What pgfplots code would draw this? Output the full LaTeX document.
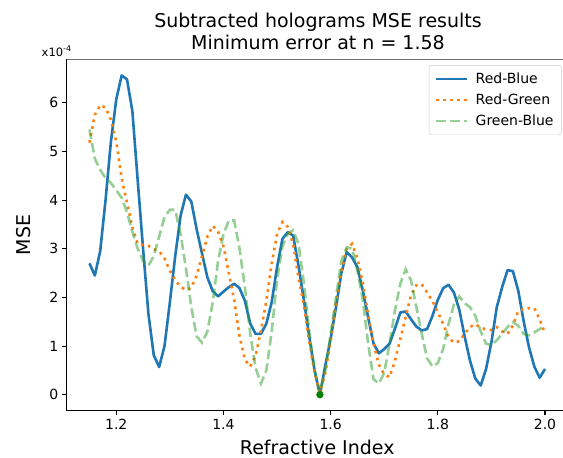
\documentclass[border=0pt]{standalone}
\usepackage{fontspec}
\setmainfont{DejaVu Sans}
\usepackage{pgfplots}
\usepackage{pgfplotstable}
\pgfplotsset{compat=1.18}
\definecolor{tabblue}{HTML}{1F77B4}
\definecolor{taborange}{HTML}{FF7F0E}
\definecolor{tabgreen}{HTML}{2CA02C}
\definecolor{mplgreen}{HTML}{008000}

\pgfplotstableread{
x rb rg gb
1.15 2.70 5.18 5.45
1.16 2.45 5.75 4.85
1.17 2.95 5.95 4.62
1.18 4.00 5.90 4.45
1.19 5.20 5.65 4.35
1.20 6.07 5.20 4.20
1.21 6.56 4.45 4.05
1.22 6.48 3.95 3.75
1.23 5.83 3.44 3.35
1.24 4.40 3.10 3.00
1.25 3.00 3.08 2.75
1.26 1.66 3.06 2.65
1.27 0.81 2.99 2.85
1.28 0.57 2.95 3.25
1.29 1.00 2.80 3.65
1.30 1.90 2.55 3.80
1.31 2.85 2.35 3.80
1.32 3.68 2.22 3.30
1.33 4.11 2.15 2.60
1.34 3.97 2.20 1.80
1.35 3.40 2.45 1.20
1.36 2.90 2.85 1.07
1.37 2.41 3.25 1.30
1.38 2.13 3.47 1.90
1.39 2.02 3.35 2.75
1.40 2.12 3.05 3.30
1.41 2.21 2.50 3.58
1.42 2.28 1.95 3.58
1.43 2.19 1.20 3.00
1.44 1.93 0.72 2.21
1.45 1.46 0.58 1.25
1.46 1.25 0.80 0.55
1.47 1.25 1.32 0.23
1.48 1.46 1.93 0.50
1.49 1.90 2.69 1.30
1.50 2.62 3.30 2.35
1.51 3.20 3.55 3.05
1.52 3.34 3.45 3.30
1.53 3.27 3.10 3.38
1.54 2.65 2.40 3.10
1.55 1.95 1.85 2.30
1.56 1.20 1.10 1.30
1.57 0.50 0.45 0.50
1.58 0.00 0.05 0.05
1.59 0.60 0.45 0.50
1.60 1.15 1.10 1.25
1.61 1.80 1.90 2.00
1.62 2.50 2.55 2.75
1.63 2.93 3.00 3.03
1.64 2.82 3.10 3.00
1.65 2.62 2.80 2.55
1.66 2.14 2.30 1.95
1.67 1.59 1.65 1.05
1.68 1.05 1.05 0.32
1.69 0.85 0.62 0.23
1.70 0.94 0.42 0.45
1.71 1.05 0.36 1.05
1.72 1.36 0.70 1.73
1.73 1.69 1.15 2.28
1.74 1.71 1.60 2.58
1.75 1.55 2.05 2.35
1.76 1.40 2.25 1.80
1.77 1.32 2.27 1.25
1.78 1.35 2.10 0.75
1.79 1.62 1.92 0.58
1.80 1.95 1.70 0.65
1.81 2.19 1.45 0.95
1.82 2.26 1.18 1.45
1.83 2.10 1.07 1.85
1.84 1.75 1.10 2.02
1.85 1.20 1.25 1.88
1.86 0.70 1.39 1.80
1.87 0.33 1.45 1.62
1.88 0.19 1.38 1.30
1.89 0.53 1.34 1.05
1.90 1.08 1.33 1.02
1.91 1.80 1.39 1.12
1.92 2.21 1.30 1.25
1.93 2.56 1.25 1.39
1.94 2.54 1.42 1.49
1.95 2.14 1.72 1.42
1.96 1.52 1.76 1.25
1.97 0.98 1.78 1.22
1.98 0.58 1.78 1.28
1.99 0.35 1.55 1.35
2.00 0.53 1.26 1.42
}\msedata

\begin{document}
\begin{tikzpicture}[x=1pt,y=1pt]
\useasboundingbox (0,0) rectangle (563,458);
\begin{axis}[
  at={(66.7pt,47.3pt)}, anchor=south west,
  scale only axis, width=501.1pt, height=351.2pt,
  xmin=1.1075, xmax=2.0425, ymin=-0.328, ymax=6.888,
  axis x line*=bottom, axis y line*=left,
  axis line style={line width=1.1pt, black, -},
  tick style={line width=1.1pt, black},
  tick align=outside, major tick length=4.8pt,
  xtick={1.2,1.4,1.6,1.8,2.0}, ytick={0,1,2,3,4,5,6},
  /pgf/number format/assume math mode=true,
  xticklabel style={font=\fontsize{14}{16}\selectfont, /pgf/number format/.cd, fixed, fixed zerofill, precision=1},
  yticklabel style={font=\fontsize{14}{16}\selectfont},
  xlabel={Refractive Index},
  xlabel style={at={(axis description cs:0.5,-0.1233)}, anchor=base, font=\fontsize{19}{22}\selectfont},
  legend cell align=left,
  legend image code/.code={\draw[#1] (0pt,0pt) -- (31pt,0pt);},
  legend style={at={(rel axis cs:0.988,0.984)}, anchor=north east,
    draw=black!20, rounded corners=2.5pt, fill=white, fill opacity=0.8, text opacity=1,
    font=\fontsize{14}{16}\selectfont, inner xsep=6pt, inner ysep=5.5pt, row sep=5pt,
    /tikz/every odd column/.append style={column sep=5pt}},
]
\addplot[tabblue, line width=2.6pt, line join=round] table[x=x, y=rb] {\msedata};
\addlegendentry{Red-Blue}
\addplot[taborange, line width=2.6pt, dash pattern=on 2.6pt off 4.4pt] table[x=x, y=rg] {\msedata};
\addlegendentry{Red-Green}
\addplot[tabgreen, draw opacity=0.5, line width=2.6pt, dash pattern=on 9.6pt off 4.2pt] table[x=x, y=gb] {\msedata};
\addlegendentry{Green-Blue}
\addplot[only marks, mark=*, mark size=3.4pt, mplgreen, forget plot] coordinates {(1.58,0)};
\draw[black!55, line width=1.6pt] (rel axis cs:0,1) -- (rel axis cs:1,1);
\end{axis}
\node[rotate=90, anchor=center, font=\fontsize{19}{22}\selectfont] at (23.5,222.9) {MSE};
\node[anchor=base, font=\fontsize{19}{22}\selectfont] at (318,430.3) {Subtracted holograms MSE results};
\node[anchor=base, font=\fontsize{19}{22}\selectfont] at (318,408.7) {Minimum error at n = 1.58};
\node[anchor=base west, inner sep=0pt, font=\fontsize{11.5}{13}\selectfont] at (41.5,401.3) {x10\raisebox{0.45em}{\fontsize{8}{9}\selectfont -4}};
\end{tikzpicture}
\end{document}
